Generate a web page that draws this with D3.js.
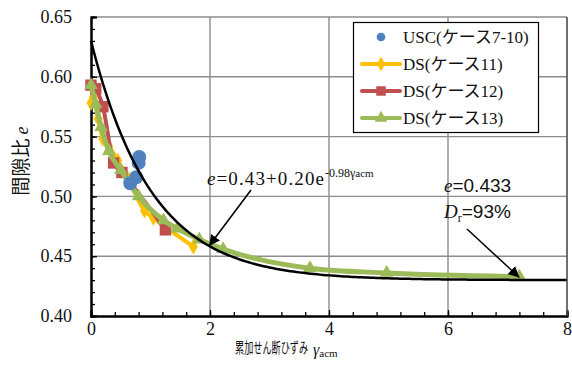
<!DOCTYPE html>
<html>
<head>
<meta charset="utf-8">
<script src="https://cdn.jsdelivr.net/npm/d3@7"></script>
<style>
  html, body { margin: 0; padding: 0; background: #fff; }
  svg { display: block; }
  .serif { font-family: "Liberation Serif", "Noto Sans CJK JP", serif; }
</style>
</head>
<body>
<svg id="chart" width="572" height="378"></svg>
<script>
// Void ratio vs. accumulated shear strain
const uscX = [0.81, 0.80, 0.76, 0.66];
const uscE = [0.533, 0.528, 0.516, 0.511];

const ds11X = [0.00, 0.04, 0.12, 0.20, 0.30, 0.45, 0.62, 0.90, 1.05, 1.72];
const ds11E = [0.578, 0.583, 0.565, 0.548, 0.542, 0.530, 0.515, 0.488, 0.482, 0.458];

const ds12X = [0.00, 0.08, 0.20, 0.38, 0.52, 1.25];
const ds12E = [0.593, 0.590, 0.575, 0.528, 0.520, 0.472];

const ds13X = [0.00, 0.08, 0.17, 0.30, 0.50, 0.80, 1.22, 1.45, 1.82, 2.22, 3.68, 4.97, 7.20];
const ds13E = [0.593, 0.577, 0.558, 0.538, 0.522, 0.500, 0.480, 0.473, 0.464, 0.456, 0.440, 0.436, 0.433];

// Fitted curve e = a + b·exp(-c·γ)
const fitA = 0.43, fitB = 0.20, fitC = 0.98;
const fitGamma = d3.range(0, 8.0001, 0.05);

const xTickValues = [0, 2, 4, 6, 8];
const yTickValues = [0.40, 0.45, 0.50, 0.55, 0.60, 0.65];
const xMinorValues = d3.range(0, 8.0001, 0.4);
const yMinorValues = d3.range(0.40, 0.65001, 0.01);

const legendLabels = ["USC(ケース7-10)", "DS(ケース11)", "DS(ケース12)", "DS(ケース13)"];
const colors = { usc: "#4f81bd", ds11: "#ffc000", ds12: "#c0504d", ds13: "#9bbb59" };

const svg = d3.select("#chart");
const L = 91, R = 567, T = 17, B = 316;

const x = d3.scaleLinear().domain([0, 8]).range([L, R]);
const y = d3.scaleLinear().domain([0.40, 0.65]).range([B, T]);

const defs = svg.append("defs");
defs.append("marker")
  .attr("id", "arrow")
  .attr("viewBox", "0 0 10 10")
  .attr("refX", 10).attr("refY", 5)
  .attr("markerWidth", 11).attr("markerHeight", 11)
  .attr("markerUnits", "userSpaceOnUse")
  .attr("orient", "auto")
  .append("path").attr("d", "M0,0 L10,5 L0,10 Z").attr("fill", "#000");

// grid
const grid = svg.append("g");
grid.selectAll(".gx").data(xTickValues.slice(1)).join("line")
  .attr("x1", d => x(d)).attr("x2", d => x(d)).attr("y1", T).attr("y2", B)
  .attr("stroke", "#8c8c8c").attr("stroke-width", 1.4);
grid.selectAll(".gy").data(yTickValues.slice(1)).join("line")
  .attr("x1", L).attr("x2", R).attr("y1", d => y(d)).attr("y2", d => y(d))
  .attr("stroke", "#8c8c8c").attr("stroke-width", 1.4);

// axes: minor ticks, then major ticks and labels
const fmtY = d3.format(".2f");
const gxMinor = svg.append("g").attr("transform", `translate(0,${B})`)
  .call(d3.axisBottom(x).tickValues(xMinorValues).tickSize(-4).tickFormat(""));
const gxMajor = svg.append("g").attr("transform", `translate(0,${B})`)
  .call(d3.axisBottom(x).tickValues(xTickValues).tickSize(-6).tickPadding(6).tickFormat(d3.format("d")));
const gyMinor = svg.append("g").attr("transform", `translate(${L},0)`)
  .call(d3.axisLeft(y).tickValues(yMinorValues).tickSize(-4).tickFormat(""));
const gyMajor = svg.append("g").attr("transform", `translate(${L},0)`)
  .call(d3.axisLeft(y).tickValues(yTickValues).tickSize(-6).tickPadding(19).tickFormat(fmtY));

[gxMinor, gxMajor, gyMinor, gyMajor].forEach(g => {
  g.select(".domain").attr("stroke", "#000").attr("stroke-width", 2);
  g.selectAll(".tick line").attr("stroke", "#000").attr("stroke-width", 1.3);
  g.selectAll(".tick text").attr("class", "serif").attr("font-size", 18).attr("fill", "#111");
});
gxMajor.selectAll(".tick text").attr("dy", "0.71em");

// series
const pts = (xs, es) => xs.map((v, i) => [v, es[i]]);
const lineGen = d3.line().x(d => x(d[0])).y(d => y(d[1])).curve(d3.curveMonotoneX);
const sym = (type, size) => d3.symbol().type(type).size(size);

function drawSeries(data, color, lineWidth, type, size) {
  const g = svg.append("g");
  const sorted = data.slice().sort((a, b) => a[0] - b[0]);
  g.append("path").attr("d", lineGen(sorted)).attr("fill", "none")
    .attr("stroke", color).attr("stroke-width", lineWidth).attr("stroke-linejoin", "round");
  g.selectAll("path.m").data(data).join("path").attr("class", "m")
    .attr("transform", d => `translate(${x(d[0])},${y(d[1])})`)
    .attr("d", sym(type, size)()).attr("fill", color);
}
drawSeries(pts(ds11X, ds11E), colors.ds11, 4, d3.symbolDiamond, 70);
drawSeries(pts(ds12X, ds12E), colors.ds12, 4, d3.symbolSquare, 130);
drawSeries(pts(ds13X, ds13E), colors.ds13, 5, d3.symbolTriangle, 80);

svg.append("g").selectAll("circle").data(pts(uscX, uscE)).join("circle")
  .attr("cx", d => x(d[0])).attr("cy", d => y(d[1])).attr("r", 7).attr("fill", colors.usc);

// fit curve
svg.append("path")
  .attr("d", d3.line().x(d => x(d)).y(d => y(fitA + fitB * Math.exp(-fitC * d)))(fitGamma))
  .attr("fill", "none").attr("stroke", "#000").attr("stroke-width", 2.5);

// right frame line
svg.append("line").attr("x1", R).attr("x2", R).attr("y1", T).attr("y2", B)
  .attr("stroke", "#555").attr("stroke-width", 1.4);

// annotations
const eq = svg.append("text").attr("class", "serif").attr("x", 207).attr("y", 185)
  .attr("font-size", 19).attr("letter-spacing", 1.1).attr("fill", "#111");
eq.append("tspan").attr("font-style", "italic").text("e");
eq.append("tspan").text(`=${fitA.toFixed(2)}+${fitB.toFixed(2)}e`);
eq.append("tspan").attr("font-size", 12).attr("dy", -8).attr("letter-spacing", 0).text(`-${fitC.toFixed(2)}γ`);
eq.append("tspan").attr("font-size", 11).attr("letter-spacing", 0).text("acm");

svg.append("line").attr("x1", 251).attr("y1", 190).attr("x2", 209).attr("y2", 246)
  .attr("stroke", "#000").attr("stroke-width", 1.5).attr("marker-end", "url(#arrow)");

const finalE = ds13E[ds13E.length - 1];
const finalX = ds13X[ds13X.length - 1];
const a1 = svg.append("text").attr("x", 444).attr("y", 192).attr("font-size", 19).attr("fill", "#111");
a1.append("tspan").attr("class", "serif").attr("font-style", "italic").text("e");
a1.append("tspan").attr("font-family", "Liberation Sans, Arial, sans-serif").text(`=${finalE.toFixed(3)}`);
const a2 = svg.append("text").attr("x", 444).attr("y", 218).attr("font-size", 19).attr("fill", "#111");
a2.append("tspan").attr("class", "serif").attr("font-style", "italic").text("D");
a2.append("tspan").attr("class", "serif").attr("font-size", 12).attr("dy", 4).text("r");
a2.append("tspan").attr("font-family", "Liberation Sans, Arial, sans-serif").attr("dy", -4).text("=93%");

svg.append("line").attr("x1", 467).attr("y1", 229).attr("x2", x(finalX)).attr("y2", y(finalE) + 1)
  .attr("stroke", "#000").attr("stroke-width", 1.5).attr("marker-end", "url(#arrow)");

// axis titles (the Japanese part is set in a narrow, condensed face)
svg.append("text").attr("transform", "translate(235,353) scale(0.61,1)")
  .attr("font-size", 15).attr("fill", "#111")
  .attr("font-family", "Noto Sans CJK JP, sans-serif")
  .text("累加せん断ひずみ");
const xt = svg.append("text").attr("x", 313).attr("y", 355).attr("fill", "#111");
xt.append("tspan").attr("class", "serif").attr("font-style", "italic").attr("font-size", 16).text("γ");
xt.append("tspan").attr("class", "serif").attr("font-size", 11).attr("dy", 2).text("acm");

const yt = svg.append("text").attr("transform", "translate(28,161) rotate(-90)")
  .attr("text-anchor", "middle").attr("font-size", 19).attr("fill", "#111")
  .attr("font-family", "Noto Sans CJK JP, sans-serif");
yt.append("tspan").text("間隙比 ");
yt.append("tspan").attr("class", "serif").attr("font-style", "italic").attr("font-size", 18).text("e");

// legend
const lg = svg.append("g");
lg.append("rect").attr("x", 353.5).attr("y", 22.5).attr("width", 185).attr("height", 110)
  .attr("fill", "#fff").attr("stroke", "#000").attr("stroke-width", 1.2);
const legendRows = [
  { color: colors.usc, line: false, type: d3.symbolCircle, size: 60 },
  { color: colors.ds11, line: true, type: d3.symbolDiamond, size: 60 },
  { color: colors.ds12, line: true, type: d3.symbolSquare, size: 90 },
  { color: colors.ds13, line: true, type: d3.symbolTriangle, size: 70 }
];
legendRows.forEach((r, i) => {
  const cy = 37 + i * 27;
  if (r.line) {
    lg.append("line").attr("x1", 362).attr("x2", 400).attr("y1", cy).attr("y2", cy)
      .attr("stroke", r.color).attr("stroke-width", 4).attr("stroke-linecap", "round");
  }
  lg.append("path").attr("transform", `translate(381,${cy})`).attr("d", sym(r.type, r.size)()).attr("fill", r.color);
  lg.append("text").attr("class", "serif").attr("x", 403).attr("y", cy + 6)
    .attr("font-size", 17).attr("fill", "#111").text(legendLabels[i]);
});
</script>
</body>
</html>
